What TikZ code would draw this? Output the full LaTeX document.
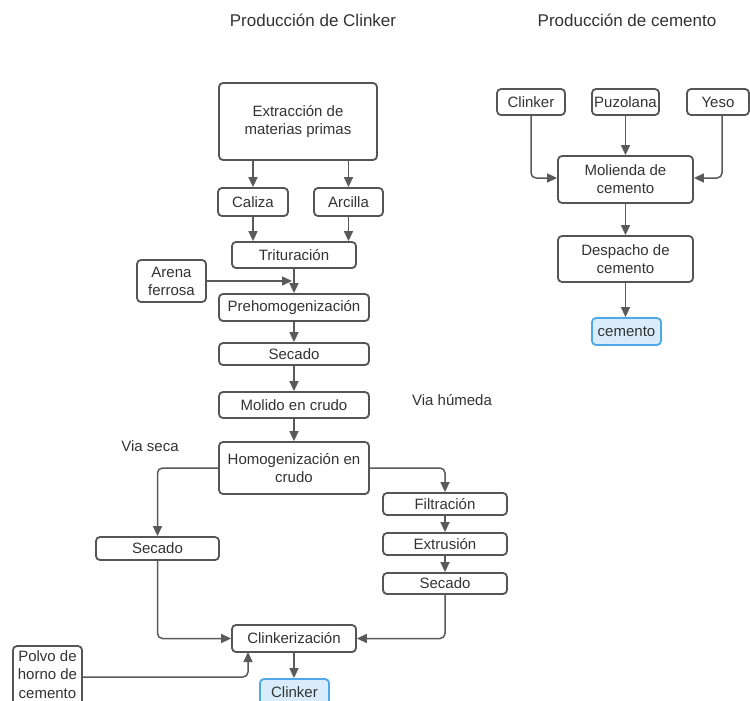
\documentclass[tikz,border=0pt]{standalone}
\usepackage{fontspec}
\setmainfont{Liberation Sans}
\usetikzlibrary{arrows.meta,calc}
\definecolor{edgegray}{HTML}{5A5A5A}
\definecolor{boxgray}{HTML}{555555}
\definecolor{txtgray}{HTML}{333333}
\definecolor{outfill}{HTML}{D8ECFB}
\definecolor{outline}{HTML}{4FA8E8}
\begin{document}
\begin{tikzpicture}[x=1pt,y=-1pt,
  box/.style={draw=boxgray, line width=1.8pt, rounded corners=4pt, fill=white,
              align=center, inner sep=0pt, text=txtgray,
              font=\fontsize{15}{18}\selectfont},
  outbox/.style={box, draw=outline, fill=outfill},
  wh/.style 2 args={minimum width=#1, minimum height=#2},
  flow/.style={draw=edgegray, line width=1.5pt, rounded corners=5pt,
               -{Triangle[length=10pt,width=9pt]}},
  plain/.style={text=txtgray, font=\fontsize{15}{18}\selectfont, inner sep=0pt},
  heading/.style={text=txtgray, font=\fontsize{17}{20}\selectfont, inner sep=0pt}]
\clip (0,0) rectangle (750,701);
\useasboundingbox (0,0) rectangle (750,701);
\fill[white] (0,0) rectangle (750,701);

% headings
\node[heading] (h1) at (313,20) {Producción de Clinker};
\node[heading] (h2) at (627,20) {Producción de cemento};
\node[plain] (seca) at (150,446) {Via seca};
\node[plain] (humeda) at (452,400) {Via húmeda};

% clinker line
\node[box, wh={158}{77}] (ext) at (298,121.5) {Extracción de\\materias primas};
\node[box, wh={70}{28}] (caliza) at (253,202) {Caliza};
\node[box, wh={69}{28}] (arcilla) at (348.5,202) {Arcilla};
\node[box, wh={124}{26}] (trit) at (294,255) {Trituración};
\node[box, wh={69}{42}] (arena) at (171.5,281) {Arena\\ferrosa};
\node[box, wh={150}{27}] (prehomo) at (294,307.5) {Prehomogenización};
\node[box, wh={150}{22}] (sec1) at (294,354) {Secado};
\node[box, wh={150}{26}] (molido) at (294,405) {Molido en crudo};
\node[box, wh={150}{52}] (homog) at (294,468) {Homogenización en\\crudo};
\node[box, wh={123}{23}] (secL) at (157.5,548.5) {Secado};
\node[box, wh={124}{22}] (filt) at (445,504) {Filtración};
\node[box, wh={124}{22}] (extr) at (445,544) {Extrusión};
\node[box, wh={124}{21}] (secR) at (445,583.5) {Secado};
\node[box, wh={124}{27}] (clinkz) at (294,638.5) {Clinkerización};
\node[box, wh={69}{62}] (polvo) at (47.5,677) {};
\node[plain, align=center, font=\fontsize{15}{18.5}\selectfont] (polvotxt) at (47.5,674.5) {Polvo de\\horno de\\cemento};
\node[outbox, wh={69}{27}] (clinker) at (294.5,692.5) {Clinker};
\coordinate (polvoin) at (248,652);

% cement line
\node[box, wh={68}{26}] (clk) at (531,102) {Clinker};
\node[box, wh={67}{26}] (puz) at (625.5,102) {Puzolana};
\node[box, wh={62}{26}] (yeso) at (718,102) {Yeso};
\node[box, wh={135}{47}] (mol) at (625.5,179.5) {Molienda de\\cemento};
\node[box, wh={135}{46}] (desp) at (625.5,259) {Despacho de\\cemento};
\node[outbox, wh={69}{27}] (cem) at (626.5,331.5) {cemento};

% connectors, clinker line
\draw[flow] (caliza.north |- ext.south) -- (caliza.north);
\draw[flow] (arcilla.north |- ext.south) -- (arcilla.north);
\draw[flow] (caliza.south) -- (caliza.south |- trit.north);
\draw[flow] (arcilla.south) -- (arcilla.south |- trit.north);
\draw[flow] (trit.south) -- (prehomo.north);
\draw[flow, shorten >=2pt] (arena.east) -- (trit.south |- arena.east);
\draw[flow] (prehomo.south) -- (sec1.north);
\draw[flow] (sec1.south) -- (molido.north);
\draw[flow] (molido.south) -- (homog.north);
\draw[flow] (homog.west) -| (secL.north);
\draw[flow] (homog.east) -| (filt.north);
\draw[flow] (filt.south) -- (extr.north);
\draw[flow] (extr.south) -- (secR.north);
\draw[flow] (secL.south) |- (clinkz.west);
\draw[flow] (secR.south) |- (clinkz.east);
\draw[flow] (polvo.east) -| (polvoin);
\draw[flow] (clinkz.south) -- (clinker.north -| clinkz.south);

% connectors, cement line
\draw[flow] (clk.south) |- ($(mol.west)+(0,-1.5)$);
\draw[flow] (puz.south) -- (mol.north);
\draw[flow] ($(yeso.south)+(4,0)$) |- ($(mol.east)+(0,-1.5)$);
\draw[flow] (mol.south) -- (desp.north);
\draw[flow] (desp.south) -- (cem.north -| desp.south);
\end{tikzpicture}
\end{document}
